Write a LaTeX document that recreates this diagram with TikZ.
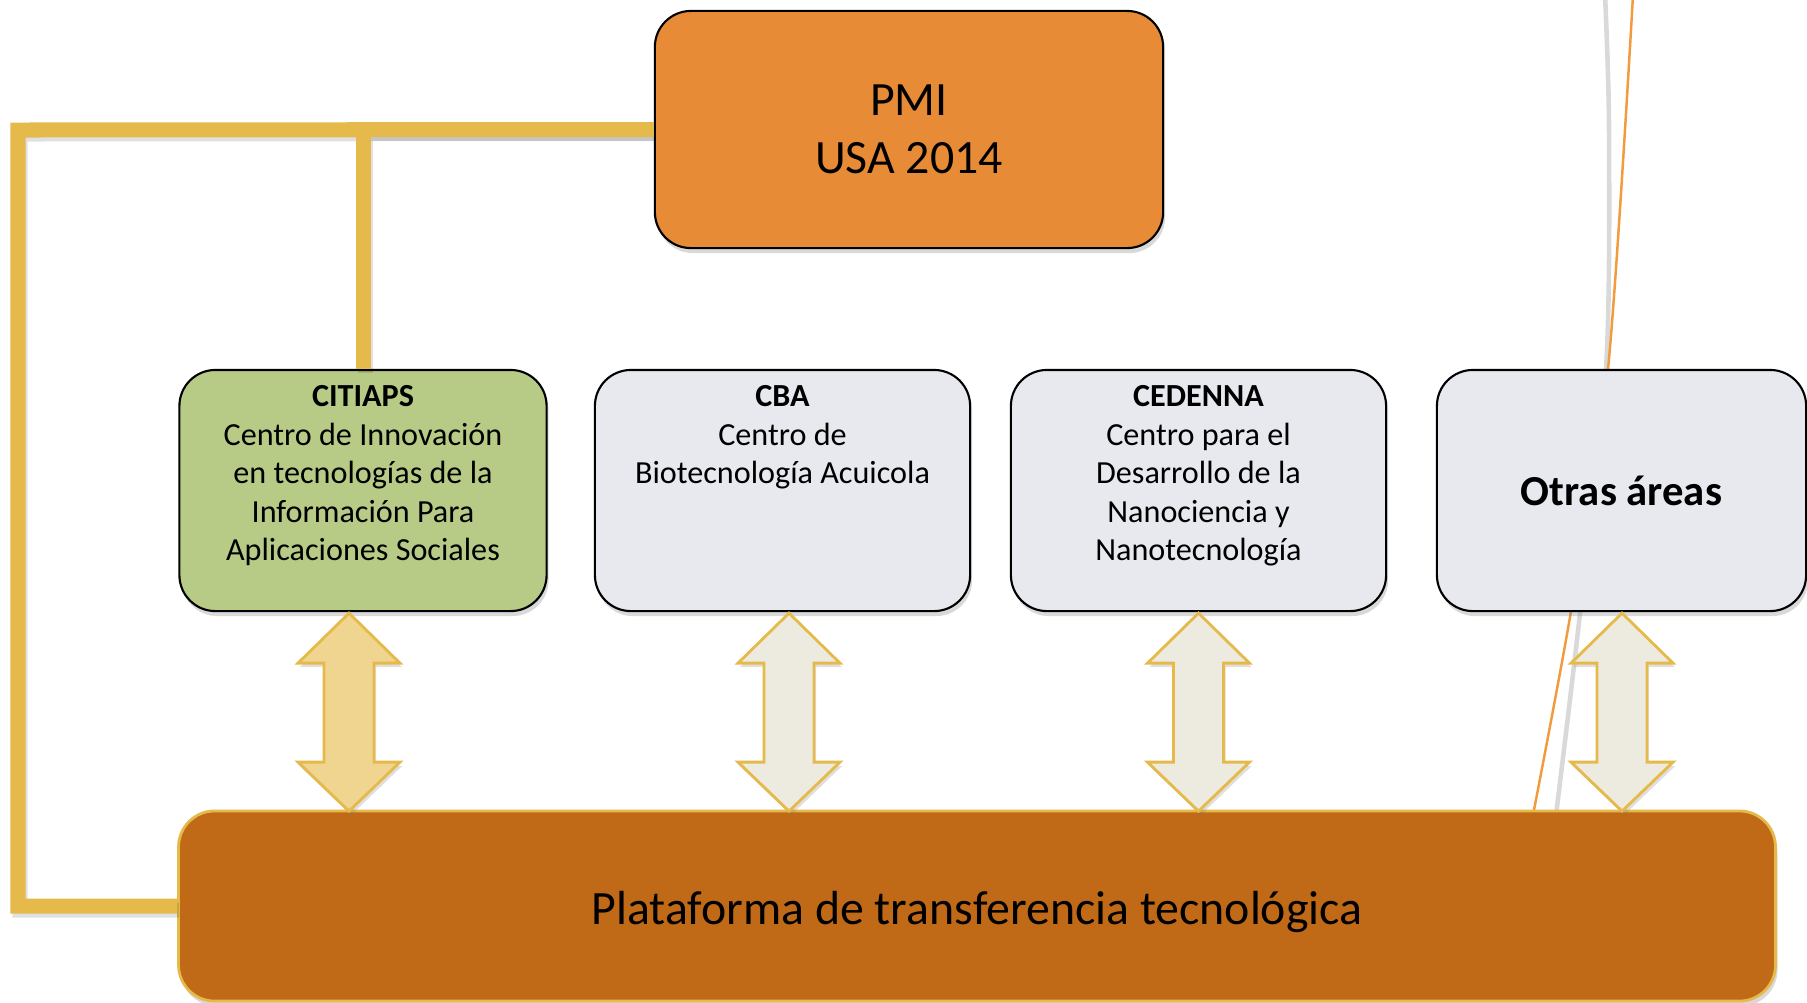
\documentclass[tikz,border=0pt]{standalone}
\usepackage{fontspec}
\setmainfont{Carlito}
\usetikzlibrary{positioning,shadows,calc}

\definecolor{pmiorange}{HTML}{E78B37}
\definecolor{citgreen}{HTML}{B7CB87}
\definecolor{boxgray}{HTML}{E8E9EF}
\definecolor{platbrown}{HTML}{C06917}
\definecolor{linkgold}{HTML}{E6B94B}
\definecolor{arrowsand}{HTML}{F0D590}
\definecolor{arrowpale}{HTML}{EDEBE0}
\definecolor{deco}{HTML}{F39A3C}

\tikzset{
  box/.style={draw,rounded corners=0.36cm,line width=0.6pt,minimum height=2.41cm,
    drop shadow={shadow xshift=0.02cm,shadow yshift=-0.05cm,opacity=0.3}},
  boxtext/.style={align=center,inner sep=0pt,font=\fontsize{9.15pt}{10.95pt}\selectfont},
  bigtext/.style={align=center,font=\fontsize{13.6pt}{16.6pt}\selectfont},
  link/.style={draw=linkgold,line width=0.15cm},
  linkshadow/.style={draw=black,opacity=0.12,line width=0.15cm,
    transform canvas={shift={(0.02cm,-0.04cm)}}},
  dbl/.style={draw=linkgold,line width=0.8pt,line join=miter,
    drop shadow={shadow xshift=0.02cm,shadow yshift=-0.04cm,opacity=0.25}},
}

\begin{document}
\begin{tikzpicture}[x=0.01cm,y=-0.01cm]
  \useasboundingbox (0,0) rectangle (1807,1002);

  % slide decoration behind the boxes
  \draw[gray!30,line width=1.3pt] plot[smooth] coordinates {(1605,-5) (1609,130) (1606,369) (1579,622) (1556,815)};
  \draw[deco,line width=0.7pt] plot[smooth] coordinates {(1633,-5) (1608,369) (1571,611) (1533,815)};

  \node[box,fill=pmiorange,minimum width=5.08cm,minimum height=2.37cm,bigtext] (pmi) at (909,129.5) {PMI\\USA 2014};

  \node[box,fill=citgreen,minimum width=3.67cm] (cit) at (363,490.5) {};
  \node[box,fill=boxgray,minimum width=3.75cm] (cba) at (782.5,490.5) {};
  \node[box,fill=boxgray,minimum width=3.75cm] (ced) at (1198.5,490.5) {};
  \node[box,fill=boxgray,minimum width=3.69cm,font=\bfseries\fontsize{12.15pt}{14pt}\selectfont] (otr) at (1621.5,490.5) {Otras áreas};

  \node[boxtext,below=0.16cm of cit.north] (citt) {\textbf{CITIAPS}\\Centro de Innovación\\en tecnologías de la\\Información Para\\Aplicaciones Sociales};
  \node[boxtext,below=0.16cm of cba.north] (cbat) {\textbf{CBA}\\Centro de\\Biotecnología Acuicola};
  \node[boxtext,below=0.16cm of ced.north] (cedt) {\textbf{CEDENNA}\\Centro para el\\Desarrollo de la\\Nanociencia y\\Nanotecnología};

  \node[box,draw=linkgold,line width=0.8pt,fill=platbrown,minimum width=15.96cm,minimum height=1.9cm] (plat) at (977,906) {};
  \node[bigtext] (platt) at ($(plat.center)+(0,6)$) {Plataforma de transferencia tecnológica};

  % links from PMI
  \coordinate (lt) at (18,130);
  \draw[linkshadow] (pmi.west) -| (cit.north);
  \draw[linkshadow] (pmi.west) -- (lt) |- (plat.west);
  \draw[link] (pmi.west) -| (cit.north);
  \draw[link] (pmi.west) -- (lt) |- (plat.west);

  % double arrows down to the platform
  \foreach \b/\dx/\c in {cit/-14/arrowsand,cba/6.5/arrowpale,ced/0/arrowpale,otr/0.5/arrowpale}
    \draw[dbl,fill=\c] ($(\b.south)+(\dx,1)$) -- ++(51,50) -- ++(-26,0) -- ++(0,99) -- ++(26,0)
      -- ++(-51,49) -- ++(-51,-49) -- ++(26,0) -- ++(0,-99) -- ++(-26,0) -- cycle;
\end{tikzpicture}
\end{document}
